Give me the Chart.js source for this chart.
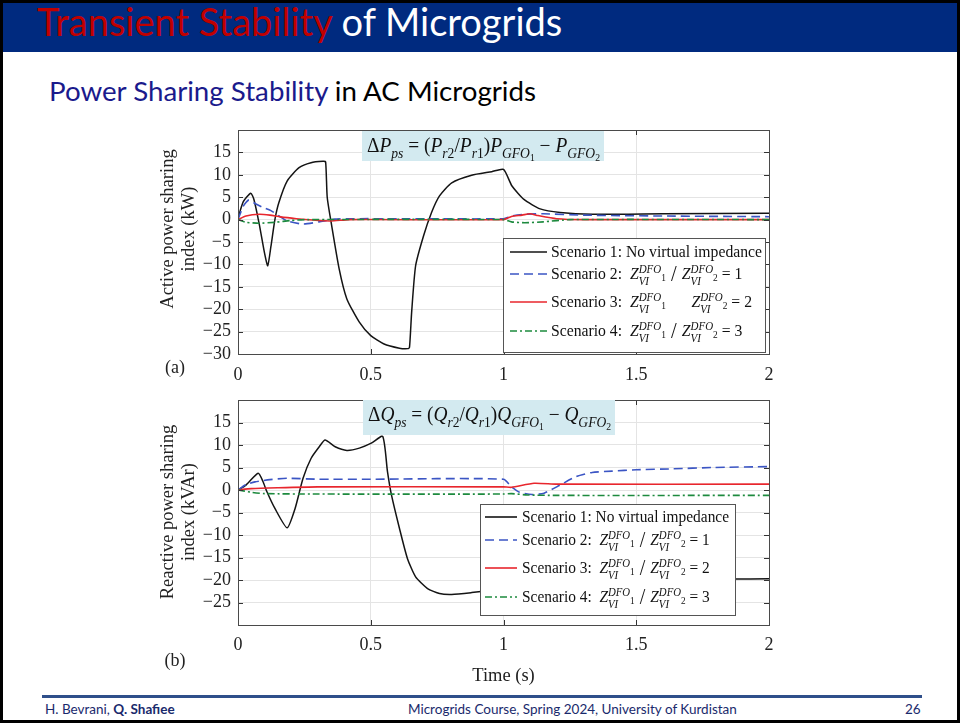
<!DOCTYPE html>
<html>
<head>
<meta charset="utf-8">
<script src="https://cdn.jsdelivr.net/npm/chart.js@4.4.1/dist/chart.umd.min.js"></script>
<style>
  html, body { margin: 0; padding: 0; background: #fff; }
  #slide { position: relative; width: 960px; height: 723px; box-sizing: border-box;
           border: 3px solid #000; overflow: hidden; background: #fff; }
  #bar { position: absolute; left: 0; top: 0; right: 0; height: 49px; background: #002a7f; }
  #title { position: absolute; left: 34px; top: -5px; font: 38px Lato, sans-serif; color: #fff; white-space: nowrap; }
  #title span { color: #c00000; }
  #sub { position: absolute; left: 46px; top: 71px; font: 27.7px Lato, sans-serif; color: #000; white-space: nowrap; }
  #sub span { color: #1a1a8c; }
  #rule { position: absolute; left: 39px; top: 692px; width: 880px; height: 3px; background: #2f4f8a; }
  .foot { position: absolute; top: 698px; font: 13.5px Lato, sans-serif; color: #1a2a6c; white-space: nowrap; }
  canvas { position: absolute; }
</style>
</head>
<body>
<div id="slide">
  <div id="bar"><div id="title"><span>Transient Stability</span> of Microgrids</div></div>
  <div id="sub"><span>Power Sharing Stability</span> in AC Microgrids</div>
  <canvas id="chartA" width="640" height="270" style="left:134px;top:114px"></canvas>
  <canvas id="chartB" width="640" height="300" style="left:134px;top:384px"></canvas>
  <div id="rule"></div>
  <div class="foot" style="left:42px">H. Bevrani, <b>Q. Shafiee</b></div>
  <div class="foot" style="left:405px">Microgrids Course, Spring 2024, University of Kurdistan</div>
  <div class="foot" style="left:902px">26</div>
</div>
<script>
// ---- data ----
const scenarioNames = ['Scenario 1: No virtual impedance', 'Scenario 2:', 'Scenario 3:', 'Scenario 4:'];
const impedanceRatios = [null, 1, 2, 3];
const timeTicks = [0, 0.5, 1, 1.5, 2];

// (a) active power sharing index (kW)
const a1T = [0, 0.02, 0.048, 0.06, 0.08, 0.1, 0.112, 0.124, 0.139, 0.154, 0.185, 0.23, 0.275, 0.32, 0.33, 0.336, 0.351, 0.381, 0.41, 0.457, 0.5, 0.548, 0.608, 0.64, 0.646, 0.654, 0.669, 0.699, 0.729, 0.759, 0.805, 0.88, 0.956, 1.0, 1.032, 1.077, 1.138, 1.213, 1.334, 1.6, 2.0];
const a1V = [0.3, 4.0, 5.9, 4.5, -1.0, -7.5, -10.3, -6.0, 0.0, 3.8, 8.6, 11.6, 12.7, 13.0, 12.9, 5.0, -0.7, -11.0, -17.7, -22.9, -25.9, -27.7, -28.7, -28.8, -28.5, -20.7, -10.3, -3.6, 1.6, 5.3, 8.2, 9.9, 10.7, 11.2, 7.5, 4.5, 2.4, 1.6, 1.2, 1.3, 1.4];
const a2T = [0, 0.02, 0.041, 0.064, 0.09, 0.124, 0.155, 0.185, 0.245, 0.305, 0.365, 0.42, 0.6, 1.0, 1.03, 1.08, 1.15, 1.3, 1.6, 2.0];
const a2V = [0, 3.0, 4.4, 3.6, 2.8, 2.0, 0.8, -0.3, -1.0, -0.5, 0.1, 0.2, 0.2, 0.2, 0.8, 1.2, 1.3, 1.0, 0.8, 0.65];
const a3T = [0, 0.03, 0.08, 0.12, 0.16, 0.22, 0.28, 0.35, 0.42, 1.0, 1.03, 1.07, 1.1, 1.13, 1.2, 1.3, 2.0];
const a3V = [0, 0.8, 1.2, 1.0, 0.6, 0.2, -0.1, -0.3, 0, 0, 0.7, 1.0, 1.3, 0.9, 0.2, 0, 0];
const a4T = [0, 0.03, 0.08, 0.14, 0.2, 0.26, 1.0, 1.03, 1.08, 1.15, 1.25, 2.0];
const a4V = [0, -0.6, -0.8, -0.6, -0.2, 0, 0, -0.5, -0.7, -0.5, 0, 0];

// (b) reactive power sharing index (kVAr)
const b1T = [0, 0.03, 0.076, 0.094, 0.109, 0.139, 0.185, 0.215, 0.245, 0.275, 0.306, 0.328, 0.366, 0.41, 0.457, 0.502, 0.545, 0.563, 0.578, 0.608, 0.638, 0.669, 0.714, 0.759, 0.805, 0.88, 0.95, 1.05, 1.2, 1.5, 1.86, 2.0];
const b1V = [0, 1.1, 3.7, 1.9, -0.4, -4.1, -8.4, -4.1, 2.6, 7.0, 9.6, 11.1, 9.6, 8.8, 9.3, 10.4, 11.9, 4.1, -1.1, -8.5, -15.2, -19.3, -21.9, -23.0, -23.2, -22.8, -22.3, -21.5, -20.5, -20.0, -19.8, -19.7];
const b2T = [0, 0.03, 0.064, 0.12, 0.185, 0.3, 0.5, 1.0, 1.03, 1.06, 1.108, 1.153, 1.213, 1.274, 1.334, 1.41, 1.5, 1.637, 1.788, 2.0];
const b2V = [0, 1.2, 1.8, 2.3, 2.6, 2.4, 2.4, 2.4, 0.7, -0.5, -1.0, -0.7, 1.1, 3.0, 3.9, 4.2, 4.5, 4.7, 5.0, 5.2];
const b3T = [0, 0.05, 0.15, 0.3, 1.0, 1.03, 1.115, 1.2, 2.0];
const b3V = [0, 0.3, 0.5, 0.7, 0.7, 0.6, 1.5, 1.3, 1.3];
const b4T = [0, 0.05, 0.1, 0.3, 1.0, 1.03, 1.09, 1.2, 2.0];
const b4V = [0, -0.5, -0.8, -0.9, -0.9, -0.8, -1.1, -1.2, -1.2];

const lineColors = ['#141414', '#3b55c4', '#e8262d', '#1d8a3e'];
const lineDashes = [[], [9, 5], [], [7, 3, 2, 3]];

const SERIF = '"Liberation Serif", "DejaVu Serif", serif';

function pts(t, v) { return t.map((x, i) => ({ x: x, y: v[i] })); }

// rich text: segments drawn left to right, "hold" stacks the next segment on top
function rich(ctx, x, y, segs, size, draw) {
  let cx = x, hold = null;
  for (const s of segs) {
    const fs = size * (s.sc || 1);
    ctx.font = (s.it ? 'italic ' : '') + fs + 'px ' + SERIF;
    const w = ctx.measureText(s.t).width;
    if (draw) ctx.fillText(s.t, cx, y + (s.dy || 0) * size);
    if (s.hold) hold = w;
    else if (hold !== null) { cx += Math.max(hold, w); hold = null; }
    else cx += w;
  }
  return cx - x;
}
const I = (t, o) => Object.assign({ t: t, it: true }, o);
const N = (t, o) => Object.assign({ t: t, it: false }, o);
const SUB = { sc: 0.7, dy: 0.28 };
const SUB2 = { sc: 0.5, dy: 0.45 };

function eqSegs(q) {
  return [N('Δ'), I(q), I('ps', SUB), N(' = ('), I(q), I('r', SUB), N('2', SUB), N('/'), I(q), I('r', SUB), N('1', SUB), N(')'),
          I(q), I('GFO', SUB), N('1', SUB2), N(' − '), I(q), I('GFO', SUB), N('2', SUB2)];
}
function legendSegs(k, slash) {
  if (k === 0) return [N(scenarioNames[0])];
  const z = (n) => [I('Z'), I('DFO', { sc: 0.7, dy: -0.36, hold: true }), I('VI', { sc: 0.7, dy: 0.34 }), N(n, { sc: 0.6, dy: 0.1 })];
  return [N(scenarioNames[k] + '  ')].concat(z('1'), [N(slash ? ' / ' : '     ', { sc: 1.3, dy: 0.1 })], z('2'), [N(' = ' + impedanceRatios[k])]);
}

function figurePlugin(cfg) {
  return {
    id: 'figure' + cfg.tag,
    afterDraw(chart) {
      const ctx = chart.ctx, a = chart.chartArea;
      const xs = chart.scales.x, ys = chart.scales.y;
      ctx.save();
      // inward ticks on all four sides
      ctx.strokeStyle = '#333'; ctx.lineWidth = 1;
      ctx.beginPath();
      ys.ticks.forEach(t => {
        const py = Math.round(ys.getPixelForValue(t.value)) + 0.5;
        ctx.moveTo(a.left, py); ctx.lineTo(a.left + 5, py);
        ctx.moveTo(a.right, py); ctx.lineTo(a.right - 5, py);
      });
      xs.ticks.forEach(t => {
        const px = Math.round(xs.getPixelForValue(t.value)) + 0.5;
        ctx.moveTo(px, a.bottom); ctx.lineTo(px, a.bottom - 5);
        ctx.moveTo(px, a.top); ctx.lineTo(px, a.top + 5);
      });
      ctx.stroke();
      ctx.strokeStyle = '#4a4a4a';
      ctx.strokeRect(Math.round(a.left) + 0.5, Math.round(a.top) + 0.5, Math.round(a.width), Math.round(a.height));

      // y axis title, two lines
      ctx.fillStyle = '#222';
      ctx.font = '18.5px ' + SERIF;
      ctx.textAlign = 'center';
      ctx.textBaseline = 'middle';
      cfg.yTitle.forEach((line, i) => {
        ctx.save();
        ctx.translate(cfg.yTitleX[i], cfg.yTitleY);
        ctx.rotate(-Math.PI / 2);
        ctx.fillText(line, 0, 0);
        ctx.restore();
      });
      ctx.textAlign = 'left';
      ctx.textBaseline = 'alphabetic';

      // formula box
      const e = cfg.eq;
      ctx.fillStyle = '#d3eaf0';
      ctx.fillRect(e.x, e.y, e.w, e.h);
      ctx.fillStyle = '#111';
      const segs = eqSegs(cfg.q);
      const ew = rich(ctx, 0, 0, segs, e.size, false);
      ctx.save();
      ctx.translate(e.x + 5, e.base);
      ctx.scale((e.w - 9) / ew, 1);
      rich(ctx, 0, 0, segs, e.size, true);
      ctx.restore();

      // legend
      const L = cfg.legend;
      ctx.fillStyle = '#fff';
      ctx.fillRect(L.x, L.y, L.w, L.h);
      ctx.strokeStyle = '#555';
      ctx.strokeRect(L.x + 0.5, L.y + 0.5, L.w, L.h);
      const w0 = rich(ctx, 0, 0, legendSegs(0, true), L.size, false);
      const sx = L.textW / w0;
      L.rows.forEach((by, k) => {
        ctx.strokeStyle = lineColors[k];
        ctx.lineWidth = 1.6;
        ctx.setLineDash(lineDashes[k]);
        ctx.beginPath();
        ctx.moveTo(L.lineX0, by - 5); ctx.lineTo(L.lineX1, by - 5);
        ctx.stroke();
        ctx.setLineDash([]);
        ctx.fillStyle = '#111';
        ctx.save();
        ctx.translate(L.textX, by);
        ctx.scale(sx, 1);
        rich(ctx, 0, 0, legendSegs(k, !(cfg.tag === 'a' && k === 2)), L.size, true);
        ctx.restore();
      });

      // panel letter
      ctx.fillStyle = '#222';
      ctx.font = '18px ' + SERIF;
      ctx.textAlign = 'center';
      ctx.textBaseline = 'middle';
      ctx.fillText(cfg.letter, 175 - 137, cfg.letterY - cfg.top);
      ctx.restore();
    }
  };
}

function makeChart(id, cfg) {
  const series = cfg.series.map((s, k) => ({
    label: scenarioNames[k],
    data: pts(s[0], s[1]),
    borderColor: lineColors[k],
    borderDash: lineDashes[k],
    borderWidth: k === 0 ? 1.5 : 1.6,
    pointRadius: 0,
    tension: 0.2,
    fill: false
  }));
  return new Chart(document.getElementById(id), {
    type: 'line',
    data: { datasets: series.reverse() },
    options: {
      responsive: false,
      animation: false,
      layout: { padding: { top: cfg.padTop, right: cfg.padRight, left: 0, bottom: 0 } },
      plugins: { legend: { display: false }, tooltip: { enabled: false } },
      scales: {
        x: {
          type: 'linear', min: 0, max: 2,
          afterBuildTicks: s => { s.ticks = timeTicks.map(v => ({ value: v })); },
          ticks: { color: '#222', font: { family: SERIF, size: 18 }, padding: cfg.xPad, maxRotation: 0, autoSkip: false,
                   callback: v => String(+v) },
          grid: { color: '#e4e4e4', drawTicks: false },
          border: { display: false },
          title: { display: !!cfg.xTitle, text: cfg.xTitle, color: '#222', font: { family: SERIF, size: 18.5 }, padding: { top: 4, bottom: 0 } },
          afterFit: s => { s.height = cfg.xH; s.paddingLeft = 0; s.paddingRight = 0; }
        },
        y: {
          min: -30, max: 20,
          ticks: {
            stepSize: 5, autoSkip: false, color: '#222', font: { family: SERIF, size: 18 }, padding: 7,
            callback: v => (cfg.hide.indexOf(v) >= 0 ? '' : String(v).replace('-', '−'))
          },
          grid: { color: '#e4e4e4', drawTicks: false },
          border: { display: false },
          afterFit: s => { s.width = 101; s.paddingTop = 0; s.paddingBottom = 0; }
        }
      }
    },
    plugins: [figurePlugin(cfg)]
  });
}

makeChart('chartA', {
  tag: 'a', q: 'P', letter: '(a)', letterY: 368, top: 117,
  series: [[a1T, a1V], [a2T, a2V], [a3T, a3V], [a4T, a4V]],
  padTop: 13, padRight: 8, xPad: 10, xH: 33, hide: [20],
  yTitle: ['Active power sharing', 'index (kW)'], yTitleX: [168 - 137, 189 - 137], yTitleY: 229 - 117,
  eq: { x: 362 - 137, y: 131 - 117, w: 242, h: 30, base: 152 - 117, size: 20 },
  legend: { x: 503 - 137, y: 238 - 117, w: 262, h: 114, size: 17, textX: 551 - 137, textW: 211,
            lineX0: 510 - 137, lineX1: 547 - 137, rows: [257 - 117, 279 - 117, 307 - 117, 336 - 117] }
});

makeChart('chartB', {
  tag: 'b', q: 'Q', letter: '(b)', letterY: 661, top: 387,
  series: [[b1T, b1V], [b2T, b2V], [b3T, b3V], [b4T, b4V]],
  padTop: 13, padRight: 8, xPad: 9, xH: 62, hide: [20, -30], xTitle: 'Time (s)',
  yTitle: ['Reactive power sharing', 'index (kVAr)'], yTitleX: [168 - 137, 189 - 137], yTitleY: 512 - 387,
  eq: { x: 363 - 137, y: 400 - 387, w: 252, h: 35, base: 421 - 387, size: 20 },
  legend: { x: 480 - 137, y: 504 - 387, w: 255, h: 111, size: 17, textX: 522 - 137, textW: 207,
            lineX0: 485 - 137, lineX1: 517 - 137, rows: [522 - 387, 545 - 387, 573 - 387, 602 - 387] }
});
</script>
</body>
</html>
